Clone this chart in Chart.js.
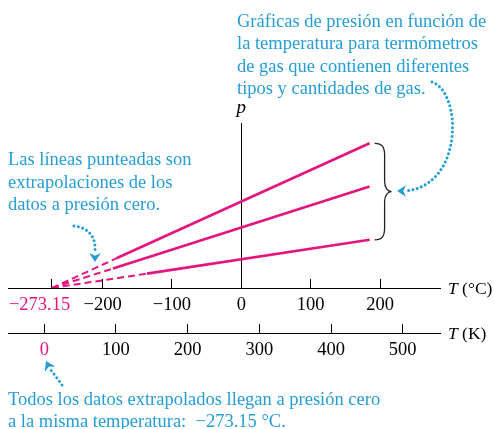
<!DOCTYPE html>
<html><head><meta charset="utf-8">
<script src="https://cdn.jsdelivr.net/npm/chart.js@4.4.0/dist/chart.umd.min.js"></script>
<style>html,body{margin:0;padding:0;background:#fff}#wrap{position:relative;width:494px;height:429px}</style>
</head><body><div id="wrap"><canvas id="c" width="494" height="429"></canvas></div>
<script>
const PINK = '#e5157f';
const BLUE = '#259dd6';
// tick labels
const celsiusTicks = [-273.15, -200, -100, 0, 100, 200];
const kelvinTicks = [0, 100, 200, 300, 400, 500];
// three gas thermometers: temperature (°C) and pressure (arbitrary units)
// first segment (to the break point) is the dashed extrapolation
const gasA_T = [-273.15, -180, 185];
const gasA_p = [0, 0.18, 0.877];
const gasB_T = [-273.15, -185, 185];
const gasB_p = [0, 0.118, 0.615];
const gasC_T = [-273.15, -136, 185];
const gasC_p = [0, 0.087, 0.292];
// annotation texts
const noteTop = ["Gráficas de presión en función de", "la temperatura para termómetros", "de gas que contienen diferentes", "tipos y cantidades de gas."];
const noteLeft = ["Las líneas punteadas son", "extrapolaciones de los", "datos a presión cero."];
const noteBottom = ["Todos los datos extrapolados llegan a presión cero", "a la misma temperatura:  \u2212273.15 °C."];

const SERIF = '"Liberation Serif", "Times New Roman", serif';
const FS = 18.5;

function mk(T, p) {
  return {
    data: T.map((t, i) => ({x: t, y: p[i]})),
    xAxisID: 'x', yAxisID: 'y',
    borderColor: PINK, borderWidth: 2.6, pointRadius: 0, tension: 0, fill: false,
    segment: {
      borderDash: c => c.p0DataIndex === 0 ? [7, 4] : undefined,
      borderWidth: c => c.p0DataIndex === 0 ? 2 : undefined
    }
  };
}
// the absolute-zero label sits left of its tick in the original figure
function fmt(v) {
  if (v === -273.15) return '\u2212273.15\u2003\u2004';
  return v < 0 ? '\u2212' + Math.abs(v) : String(v);
}

function dotted(c, p) {
  c.save();
  c.strokeStyle = BLUE; c.lineWidth = 3; c.lineCap = 'round';
  c.setLineDash([0.01, 4.4]);
  c.beginPath(); c.moveTo(p[0], p[1]); c.bezierCurveTo(p[2], p[3], p[4], p[5], p[6], p[7]); c.stroke();
  c.restore();
}
function head(c, x, y, ang, s) {
  c.save(); c.fillStyle = BLUE; c.translate(x, y); c.rotate(ang);
  c.beginPath(); c.moveTo(0, 0); c.lineTo(-s, -s * 0.65); c.lineTo(-s * 0.7, 0); c.lineTo(-s, s * 0.65); c.closePath(); c.fill();
  c.restore();
}

const annot = {
  id: 'annot',
  afterDraw(chart) {
    const c = chart.ctx, xs = chart.scales.x, ys = chart.scales.y;
    c.save();
    c.font = FS + 'px ' + SERIF; c.fillStyle = BLUE; c.textBaseline = 'alphabetic'; c.textAlign = 'left';
    noteTop.forEach((t, i) => c.fillText(t, 237, 27 + i * 22.4));
    noteLeft.forEach((t, i) => c.fillText(t, 8, 165 + i * 22.5));
    noteBottom.forEach((t, i) => c.fillText(t, 8, 405 + i * 21.5));
    // p label
    c.fillStyle = '#000'; c.font = 'italic 19px ' + SERIF; c.textAlign = 'center';
    c.fillText('p', xs.getPixelForValue(0), 113);
    // axis titles
    const ks = chart.scales.k;
    const titles = [[' (°C)', xs.top + 6], [' (K)', ks.top + 6]];
    titles.forEach(([txt, y]) => {
      c.textAlign = 'left';
      c.font = 'italic 17.5px ' + SERIF; c.fillText('T', 448, y);
      const w = c.measureText('T').width;
      c.font = '17.5px ' + SERIF; c.fillText(txt, 448 + w, y);
    });
    // brace
    const bx = xs.getPixelForValue(gasA_T[2]) + 5;
    const yT = ys.getPixelForValue(gasA_p[2]), yB = ys.getPixelForValue(gasC_p[2]), yM = (yT + yB) / 2;
    c.strokeStyle = '#222'; c.lineWidth = 1.3; c.beginPath();
    c.moveTo(bx, yT);
    c.bezierCurveTo(bx + 8, yT, bx + 10, yT + 4, bx + 10, yT + 12);
    c.lineTo(bx + 10, yM - 10);
    c.bezierCurveTo(bx + 10, yM - 4, bx + 13, yM, bx + 17, yM);
    c.bezierCurveTo(bx + 13, yM, bx + 10, yM + 4, bx + 10, yM + 10);
    c.lineTo(bx + 10, yB - 12);
    c.bezierCurveTo(bx + 10, yB - 4, bx + 8, yB, bx, yB);
    c.stroke();
    // dotted arrows
    dotted(c, [432, 82, 462, 92, 464, 186, 405, 191]);
    head(c, 397, 191, Math.PI, 9);
    dotted(c, [74, 226, 90, 228, 96, 238, 95, 252]);
    head(c, 95, 262, Math.PI / 2, 9);
    dotted(c, [62, 385, 58, 379, 53, 373, 50, 369]);
    head(c, 46, 361, Math.atan2(-8, -4), 9);
    c.restore();
  }
};

const axisCommon = (ticks, color0, fit) => ({
  type: 'linear', position: 'bottom',
  afterBuildTicks: s => { s.ticks = ticks.map(v => ({value: v})); },
  afterFit: s => { s.height = fit; s.paddingLeft = 0; s.paddingRight = 0; },
  border: {display: true, color: '#000', width: 1},
  grid: {display: true, drawOnChartArea: false, drawTicks: true, tickLength: -9, color: '#000', tickColor: '#000', tickWidth: 1},
  ticks: {
    autoSkip: false, maxRotation: 0, minRotation: 0, padding: 14.6,
    color: ctx => ctx.tick && ctx.tick.value === color0 ? PINK : '#000',
    font: {family: SERIF, size: FS},
    callback: v => fmt(v)
  }
});

const xOpts = Object.assign(axisCommon(celsiusTicks, -273.15, 45), {min: -336.4, max: 286.5, weight: 0});
const kOpts = Object.assign(axisCommon(kelvinTicks, 0, 30), {min: -50.6, max: 552, weight: 1});

new Chart(document.getElementById('c'), {
  type: 'line',
  data: {datasets: [mk(gasA_T, gasA_p), mk(gasB_T, gasB_p), mk(gasC_T, gasC_p)]},
  options: {
    responsive: false, animation: false,
    layout: {padding: {left: 8, right: 54, top: 123, bottom: 66}},
    plugins: {legend: {display: false}, tooltip: {enabled: false}, title: {display: false}},
    scales: {
      x: xOpts,
      k: kOpts,
      y: {type: 'linear', position: {x: 0}, min: 0, max: 1,
          ticks: {display: false}, grid: {display: false},
          border: {display: true, color: '#000', width: 1}}
    }
  },
  plugins: [annot]
});
</script></body></html>
